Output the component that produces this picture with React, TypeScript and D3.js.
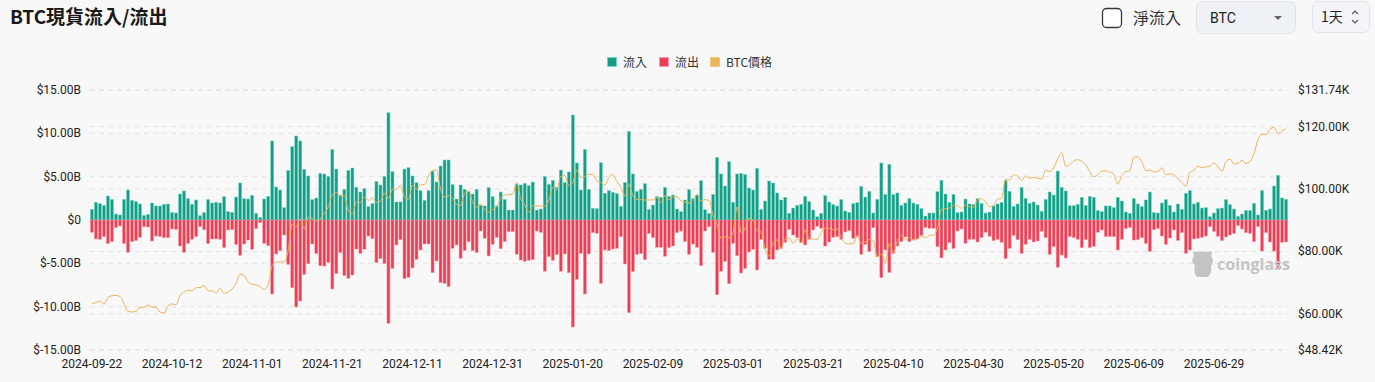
import React from "react";
import * as d3 from "d3";

const START_DATE = "2024-09-22";
const X_TICKS = [
  "2024-09-22", "2024-10-12", "2024-11-01", "2024-11-21", "2024-12-11", "2024-12-31",
  "2025-01-20", "2025-02-09", "2025-03-01", "2025-03-21", "2025-04-10", "2025-04-30",
  "2025-05-20", "2025-06-09", "2025-06-29",
];
const LEFT_TICKS = [15, 10, 5, 0, -5, -10, -15];
const RIGHT_TICKS = [131.74, 120, 100, 80, 60, 48.42];
const LEGEND = ["流入", "流出", "BTC價格"];

// Daily spot inflow (billions USD)
const INFLOW = [
  1.23, 2.04, 1.88, 1.69, 2.77, 2.38, 0.69, 0.58, 2.38, 3.46,
  2.27, 2.12, 1.85, 0.54, 0.65, 1.96, 1.62, 1.62, 1.81, 1.85,
  0.85, 0.81, 3.0, 3.35, 2.46, 1.81, 2.31, 0.5, 0.85, 2.38,
  1.96, 2.04, 1.96, 2.69, 0.96, 0.88, 2.65, 4.27, 2.46, 2.42,
  2.85, 0.77, 0.3, 2.42, 2.73, 9.12, 3.81, 3.46, 1.42, 5.73,
  8.46, 9.69, 9.12, 5.85, 5.08, 2.35, 2.54, 5.35, 5.31, 5.04,
  8.15, 5.88, 2.88, 3.5, 5.73, 6.0, 3.77, 3.23, 3.62, 1.54,
  1.88, 4.46, 4.04, 5.04, 12.38, 5.58, 2.08, 2.08, 5.88, 6.04,
  5.08, 4.31, 3.38, 2.27, 3.4, 5.62, 4.38, 6.23, 6.92, 6.92,
  4.08, 2.42, 4.04, 3.54, 3.27, 3.0, 3.54, 1.69, 1.62, 3.73,
  2.69, 1.62, 3.23, 2.38, 1.15, 1.15, 4.15, 4.04, 4.23, 3.96,
  4.38, 1.15, 1.27, 5.04, 4.12, 4.58, 3.77, 5.77, 4.31, 5.54,
  12.12, 6.58, 3.46, 8.15, 3.54, 1.35, 1.31, 6.62, 3.08, 3.38,
  3.19, 3.04, 1.58, 4.31, 10.23, 5.31, 3.31, 3.54, 4.19, 1.23,
  1.73, 2.73, 2.62, 3.77, 2.73, 2.88, 1.27, 0.96, 2.31, 3.54,
  2.46, 2.88, 4.54, 1.19, 0.77, 2.96, 7.23, 5.31, 3.92, 6.73,
  2.04, 5.31, 5.38, 5.23, 3.69, 3.46, 5.96, 1.23, 2.19, 4.5,
  4.27, 3.12, 2.31, 2.62, 0.77, 1.38, 1.69, 1.81, 2.73, 2.12,
  1.15, 0.38, 0.77, 2.81, 2.08, 1.77, 1.62, 2.35, 1.04, 0.88,
  1.88, 2.0, 3.88, 2.65, 3.31, 0.81, 2.38, 6.58, 2.96, 6.42,
  2.92, 3.12, 1.69, 1.96, 2.46, 1.96, 1.81, 1.31, 0.46, 0.81,
  0.81, 3.27, 4.58, 3.0, 2.04, 2.96, 0.85, 0.92, 2.42, 1.85,
  1.81, 2.46, 1.92, 0.81, 0.92, 1.62, 1.85, 2.04, 4.54, 3.31,
  1.58, 1.85, 3.77, 2.5, 1.92, 2.08, 1.73, 1.0, 2.38, 3.23,
  2.88, 5.65, 3.77, 3.35, 1.65, 1.65, 1.81, 2.62, 1.69, 2.73,
  2.62, 1.08, 0.96, 1.62, 1.62, 1.42, 2.62, 2.19, 0.92, 0.77,
  2.46, 1.85, 1.54, 2.31, 3.23, 0.85, 0.81, 1.96, 2.35, 1.69,
  0.92, 1.85, 1.23, 3.08, 3.38, 1.85, 2.04, 1.38, 1.42, 0.38,
  0.81, 1.31, 1.38, 2.35, 1.77, 1.27, 0.42, 0.69, 1.12, 1.08,
  1.92, 0.58, 3.38, 1.12, 1.27, 3.92, 5.15, 2.54, 2.38,
];

// Daily spot outflow (billions USD, magnitude)
const OUTFLOW = [
  1.42, 2.19, 2.23, 1.92, 2.73, 2.5, 0.88, 0.69, 2.73, 3.73,
  2.5, 2.38, 2.0, 0.77, 0.81, 2.42, 1.85, 1.92, 2.04, 2.04,
  1.04, 1.08, 3.0, 3.73, 2.69, 2.23, 1.92, 0.77, 1.12, 2.73,
  2.19, 2.19, 2.23, 3.19, 1.15, 1.12, 2.81, 4.08, 2.77, 2.31,
  3.38, 1.0, 0.3, 2.69, 2.96, 8.54, 3.92, 3.54, 1.73, 5.12,
  7.81, 10.04, 9.35, 6.27, 5.04, 2.77, 3.88, 5.27, 5.31, 4.88,
  7.96, 6.19, 3.77, 6.42, 6.73, 6.35, 3.35, 3.85, 3.38, 1.85,
  2.15, 4.92, 4.46, 5.04, 11.92, 5.58, 2.88, 2.27, 6.77, 6.62,
  5.54, 4.54, 3.46, 2.77, 2.77, 6.08, 4.73, 7.23, 7.31, 7.69,
  3.27, 2.88, 4.42, 3.54, 2.5, 3.54, 3.77, 1.27, 2.12, 4.15,
  2.81, 2.0, 3.31, 2.5, 1.35, 1.35, 3.96, 4.62, 4.77, 4.65,
  4.58, 1.27, 1.42, 5.92, 4.23, 4.65, 4.0, 5.92, 3.92, 6.08,
  12.35, 6.85, 3.85, 8.54, 3.92, 1.46, 1.54, 7.31, 3.46, 3.54,
  3.35, 3.27, 1.92, 5.08, 10.69, 5.96, 3.96, 3.88, 4.58, 1.54,
  2.04, 3.15, 3.15, 4.19, 3.19, 3.0, 1.46, 1.27, 2.46, 3.96,
  2.77, 3.15, 5.27, 1.27, 0.77, 3.73, 8.62, 5.92, 4.77, 7.35,
  2.69, 4.12, 6.12, 5.58, 3.69, 3.38, 5.77, 2.23, 3.27, 4.54,
  4.54, 3.46, 3.27, 2.58, 1.08, 1.73, 2.04, 2.58, 2.88, 2.23,
  1.15, 0.73, 0.96, 3.0, 2.54, 2.0, 1.92, 2.23, 1.38, 1.23,
  2.12, 1.88, 3.96, 2.81, 3.65, 0.88, 4.23, 6.65, 3.46, 6.04,
  3.85, 3.0, 2.5, 1.96, 2.5, 2.27, 2.19, 1.77, 0.85, 0.96,
  0.96, 3.08, 4.38, 3.46, 2.62, 3.27, 1.27, 1.04, 2.69, 2.23,
  2.23, 2.54, 2.04, 1.42, 1.88, 2.38, 2.23, 2.58, 4.46, 3.27,
  1.77, 2.27, 3.85, 2.81, 2.23, 2.54, 2.42, 1.31, 2.04, 3.96,
  3.08, 5.46, 4.04, 4.38, 1.92, 2.04, 2.23, 3.19, 2.27, 3.19,
  3.04, 1.42, 1.15, 1.92, 1.92, 1.92, 3.46, 2.23, 1.0, 0.85,
  2.31, 2.27, 2.04, 2.69, 3.62, 1.12, 1.0, 1.85, 2.81, 2.08,
  1.15, 2.35, 1.46, 3.85, 3.46, 2.19, 2.12, 2.0, 1.85, 0.77,
  1.31, 1.88, 2.38, 1.96, 1.73, 1.54, 0.65, 1.04, 1.46, 1.54,
  2.5, 0.77, 3.58, 1.46, 2.54, 3.58, 5.5, 2.58, 2.54,
];

// Daily BTC price (thousands USD)
const PRICE = [
  63.3, 63.6, 64.1, 63.2, 65.2, 65.8, 65.9, 65.6, 63.3, 60.8,
  60.6, 60.8, 62.1, 62.1, 62.8, 62.2, 62.1, 60.6, 60.3, 62.5,
  63.2, 62.9, 66.0, 67.0, 67.6, 67.4, 68.4, 68.4, 69.0, 67.4,
  67.4, 66.7, 68.2, 66.6, 67.0, 68.0, 69.9, 72.7, 72.3, 70.2,
  69.5, 69.3, 68.7, 67.8, 69.4, 75.6, 76.5, 76.7, 76.6, 80.5,
  88.7, 87.9, 90.4, 87.3, 91.0, 90.6, 89.8, 90.5, 92.3, 94.3,
  98.3, 98.9, 97.7, 98.0, 93.0, 91.9, 95.9, 95.6, 97.5, 96.4,
  97.2, 95.8, 96.0, 98.8, 97.0, 99.9, 99.9, 101.2, 97.4, 96.7,
  101.2, 100.0, 101.4, 101.4, 104.3, 106.0, 106.1, 100.0, 97.5, 97.8,
  97.1, 95.1, 94.7, 98.7, 99.4, 95.8, 94.2, 95.2, 93.4, 92.6,
  93.4, 94.4, 96.9, 98.1, 98.2, 98.3, 102.1, 96.9, 95.0, 92.5,
  94.7, 94.6, 94.5, 94.5, 96.5, 100.5, 99.8, 104.1, 104.4, 101.1,
  102.0, 106.1, 103.7, 104.0, 104.7, 104.7, 102.6, 102.1, 101.3, 103.7,
  104.7, 102.4, 100.6, 97.7, 101.4, 97.9, 96.6, 96.6, 96.5, 96.5,
  96.5, 97.4, 95.7, 97.9, 96.6, 97.5, 97.6, 96.2, 95.8, 95.5,
  96.6, 98.3, 96.1, 96.6, 96.3, 91.5, 88.7, 84.3, 84.7, 84.4,
  86.0, 94.3, 86.1, 87.2, 90.6, 89.9, 86.7, 86.2, 80.7, 78.5,
  82.9, 83.7, 81.1, 84.0, 84.3, 82.6, 84.1, 82.7, 86.9, 84.2,
  84.0, 83.8, 86.1, 87.5, 87.4, 86.9, 87.2, 84.4, 82.6, 82.4,
  82.5, 85.2, 82.5, 83.1, 83.8, 83.5, 78.2, 79.2, 76.3, 82.6,
  79.6, 83.4, 85.3, 83.7, 84.5, 83.6, 84.0, 84.9, 84.5, 85.1,
  85.2, 87.5, 93.4, 93.7, 93.9, 94.7, 94.6, 93.8, 94.9, 94.3,
  94.2, 96.5, 96.9, 95.9, 94.3, 94.7, 96.8, 97.0, 103.2, 102.9,
  104.6, 104.1, 102.8, 104.2, 103.5, 103.7, 103.5, 103.2, 106.0, 105.6,
  106.8, 109.7, 111.7, 107.3, 107.8, 109.0, 109.4, 108.9, 107.8, 105.6,
  103.9, 104.6, 105.7, 105.9, 105.4, 104.7, 101.6, 104.4, 105.6, 105.8,
  110.3, 110.3, 108.7, 105.9, 106.1, 105.5, 105.6, 106.8, 104.6, 104.9,
  104.6, 103.3, 102.1, 100.9, 105.4, 106.0, 107.3, 106.9, 107.1, 107.3,
  108.4, 107.1, 105.7, 108.8, 109.6, 108.0, 108.2, 109.2, 108.2, 108.9,
  111.3, 115.9, 117.5, 117.4, 119.1, 119.8, 117.7, 118.7, 119.3,
];

const GREEN = "#179c85";
const GREEN_EDGE = "#6fd8c6";
const RED = "#ec3f55";
const RED_EDGE = "#f79aa6";
const ORANGE = "#eab45a";
const BG = "#f8f8f8";
const FONT = "Roboto, 'Noto Sans CJK TC', sans-serif";
const CJK = "'Noto Sans CJK TC', 'Noto Sans', sans-serif";

export default function App() {
  const parse = d3.utcParse("%Y-%m-%d");
  const fmt = d3.utcFormat("%Y-%m-%d");
  const start = parse(START_DATE) as Date;
  const dates = INFLOW.map((_, i) => fmt(d3.utcDay.offset(start, i)));

  const left = 90;
  const right = 1288;
  const top = 90;
  const bottom = 350;

  const x = d3.scaleBand<string>().domain(dates).range([left, right]).paddingInner(0.25).paddingOuter(0.1);
  const bw = x.bandwidth();
  const yL = d3.scaleLinear().domain([-15, 15]).range([bottom, top]);
  const yR = d3.scaleLinear().domain([48.42, 131.74]).range([bottom, top]);

  const cx = (d: string) => (x(d) as number) + bw / 2;

  const line = d3
    .line<number>()
    .x((_, i) => cx(dates[i]))
    .y((d) => yR(d))
    .curve(d3.curveMonotoneX);

  const fmtL = (v: number) => (v === 0 ? "$0" : `$${v.toFixed(2)}B`);
  const fmtR = (v: number) => `$${v.toFixed(2)}K`;

  return (
    <svg
      width={1375}
      height={382}
      style={{ position: "absolute", left: 0, top: 0, display: "block" }}
    >
      <rect x={0} y={0} width={1375} height={382} fill={BG} />

      {/* Header */}
      <text x={10} y={24} fontFamily={CJK} fontWeight={700} fontSize={19} fill="#1a1a1a">
        BTC現貨流入/流出
      </text>

      <rect x={1102.5} y={8.5} width={19} height={19} rx={4} fill="#fff" stroke="#3a3a3a" strokeWidth={1.3} />
      <text x={1133} y={23.5} fontFamily={CJK} fontSize={16} fill="#333">
        淨流入
      </text>

      <rect x={1196.5} y={1.5} width={99} height={32} rx={6} fill="#eef1f5" stroke="#e1e5ea" />
      <text x={1210} y={22.5} fontFamily={FONT} fontSize={14} fill="#222">
        BTC
      </text>
      <path d="M1274,16 L1282,16 L1278,20 Z" fill="#666" />

      <rect x={1312.5} y={1.5} width={57} height={31} rx={6} fill="#f3f5f8" stroke="#e1e5ea" />
      <text x={1321} y={22} fontFamily={CJK} fontSize={14} fill="#222">
        1天
      </text>
      <path d="M1352,14 L1355,11 L1358,14" fill="none" stroke="#555" strokeWidth={1.1} />
      <path d="M1352,20 L1355,23 L1358,20" fill="none" stroke="#555" strokeWidth={1.1} />

      {/* Legend */}
      {LEGEND.map((name, i) => {
        const lx = [607, 659, 710][i];
        const fill = [GREEN, RED, ORANGE][i];
        const edge = [GREEN_EDGE, RED_EDGE, "#f0c77e"][i];
        return (
          <g key={name}>
            <rect x={lx + 0.5} y={57.5} width={9} height={9} fill={fill} stroke={edge} strokeWidth={1} />
            <text x={lx + 16} y={66.5} fontFamily={CJK} fontSize={12} fill="#333">
              {name}
            </text>
          </g>
        );
      })}

      {/* Gridlines */}
      {LEFT_TICKS.map((t) => (
        <line key={"gl" + t} x1={left} x2={right} y1={yL(t)} y2={yL(t)} stroke="#e4e4e4" strokeDasharray="5,4" />
      ))}
      {RIGHT_TICKS.map((t) => (
        <line key={"gr" + t} x1={left} x2={right} y1={yR(t)} y2={yR(t)} stroke="#e4e4e4" strokeDasharray="5,4" />
      ))}

      {/* Zero line */}
      <line x1={left} x2={right} y1={yL(0)} y2={yL(0)} stroke="#9a9a9a" strokeWidth={1} />

      {/* Bars */}
      {dates.map((d, i) => (
        <g key={d}>
          <rect
            x={x(d)}
            y={yL(INFLOW[i])}
            width={bw}
            height={yL(0) - yL(INFLOW[i])}
            fill={GREEN}
            stroke={GREEN_EDGE}
            strokeWidth={0.5}
          />
          <rect
            x={x(d)}
            y={yL(0)}
            width={bw}
            height={yL(-OUTFLOW[i]) - yL(0)}
            fill={RED}
            stroke={RED_EDGE}
            strokeWidth={0.5}
          />
        </g>
      ))}

      {/* Price line */}
      <path d={line(PRICE) || ""} fill="none" stroke={ORANGE} strokeWidth={1} />

      {/* Left axis labels */}
      {LEFT_TICKS.map((t) => (
        <text key={"l" + t} x={81} y={yL(t) + 4} textAnchor="end" fontFamily={FONT} fontSize={12} fill="#222">
          {fmtL(t)}
        </text>
      ))}

      {/* Right axis labels */}
      {RIGHT_TICKS.map((t) => (
        <text key={"r" + t} x={1298} y={yR(t) + 4} fontFamily={FONT} fontSize={12} fill="#222">
          {fmtR(t)}
        </text>
      ))}

      {/* X axis labels */}
      {X_TICKS.map((t) => (
        <text key={t} x={cx(t)} y={368} textAnchor="middle" fontFamily={FONT} fontSize={12} fill="#222">
          {t}
        </text>
      ))}

      {/* Watermark */}
      <g fill="#c4c4c4">
        <path d="M1194,256 Q1191,250 1197,252 Q1202,251 1208,252 Q1214,250 1211,256 Q1215,261 1211,266 Q1212,273 1208,277 L1197,277 Q1193,273 1195,266 Q1190,261 1194,256 Z" />
        <text x={1217} y={270} fontFamily="'Open Sans', Roboto, sans-serif" fontWeight={700} fontSize={16} textLength={73} lengthAdjust="spacingAndGlyphs">
          coinglass
        </text>
      </g>
    </svg>
  );
}
